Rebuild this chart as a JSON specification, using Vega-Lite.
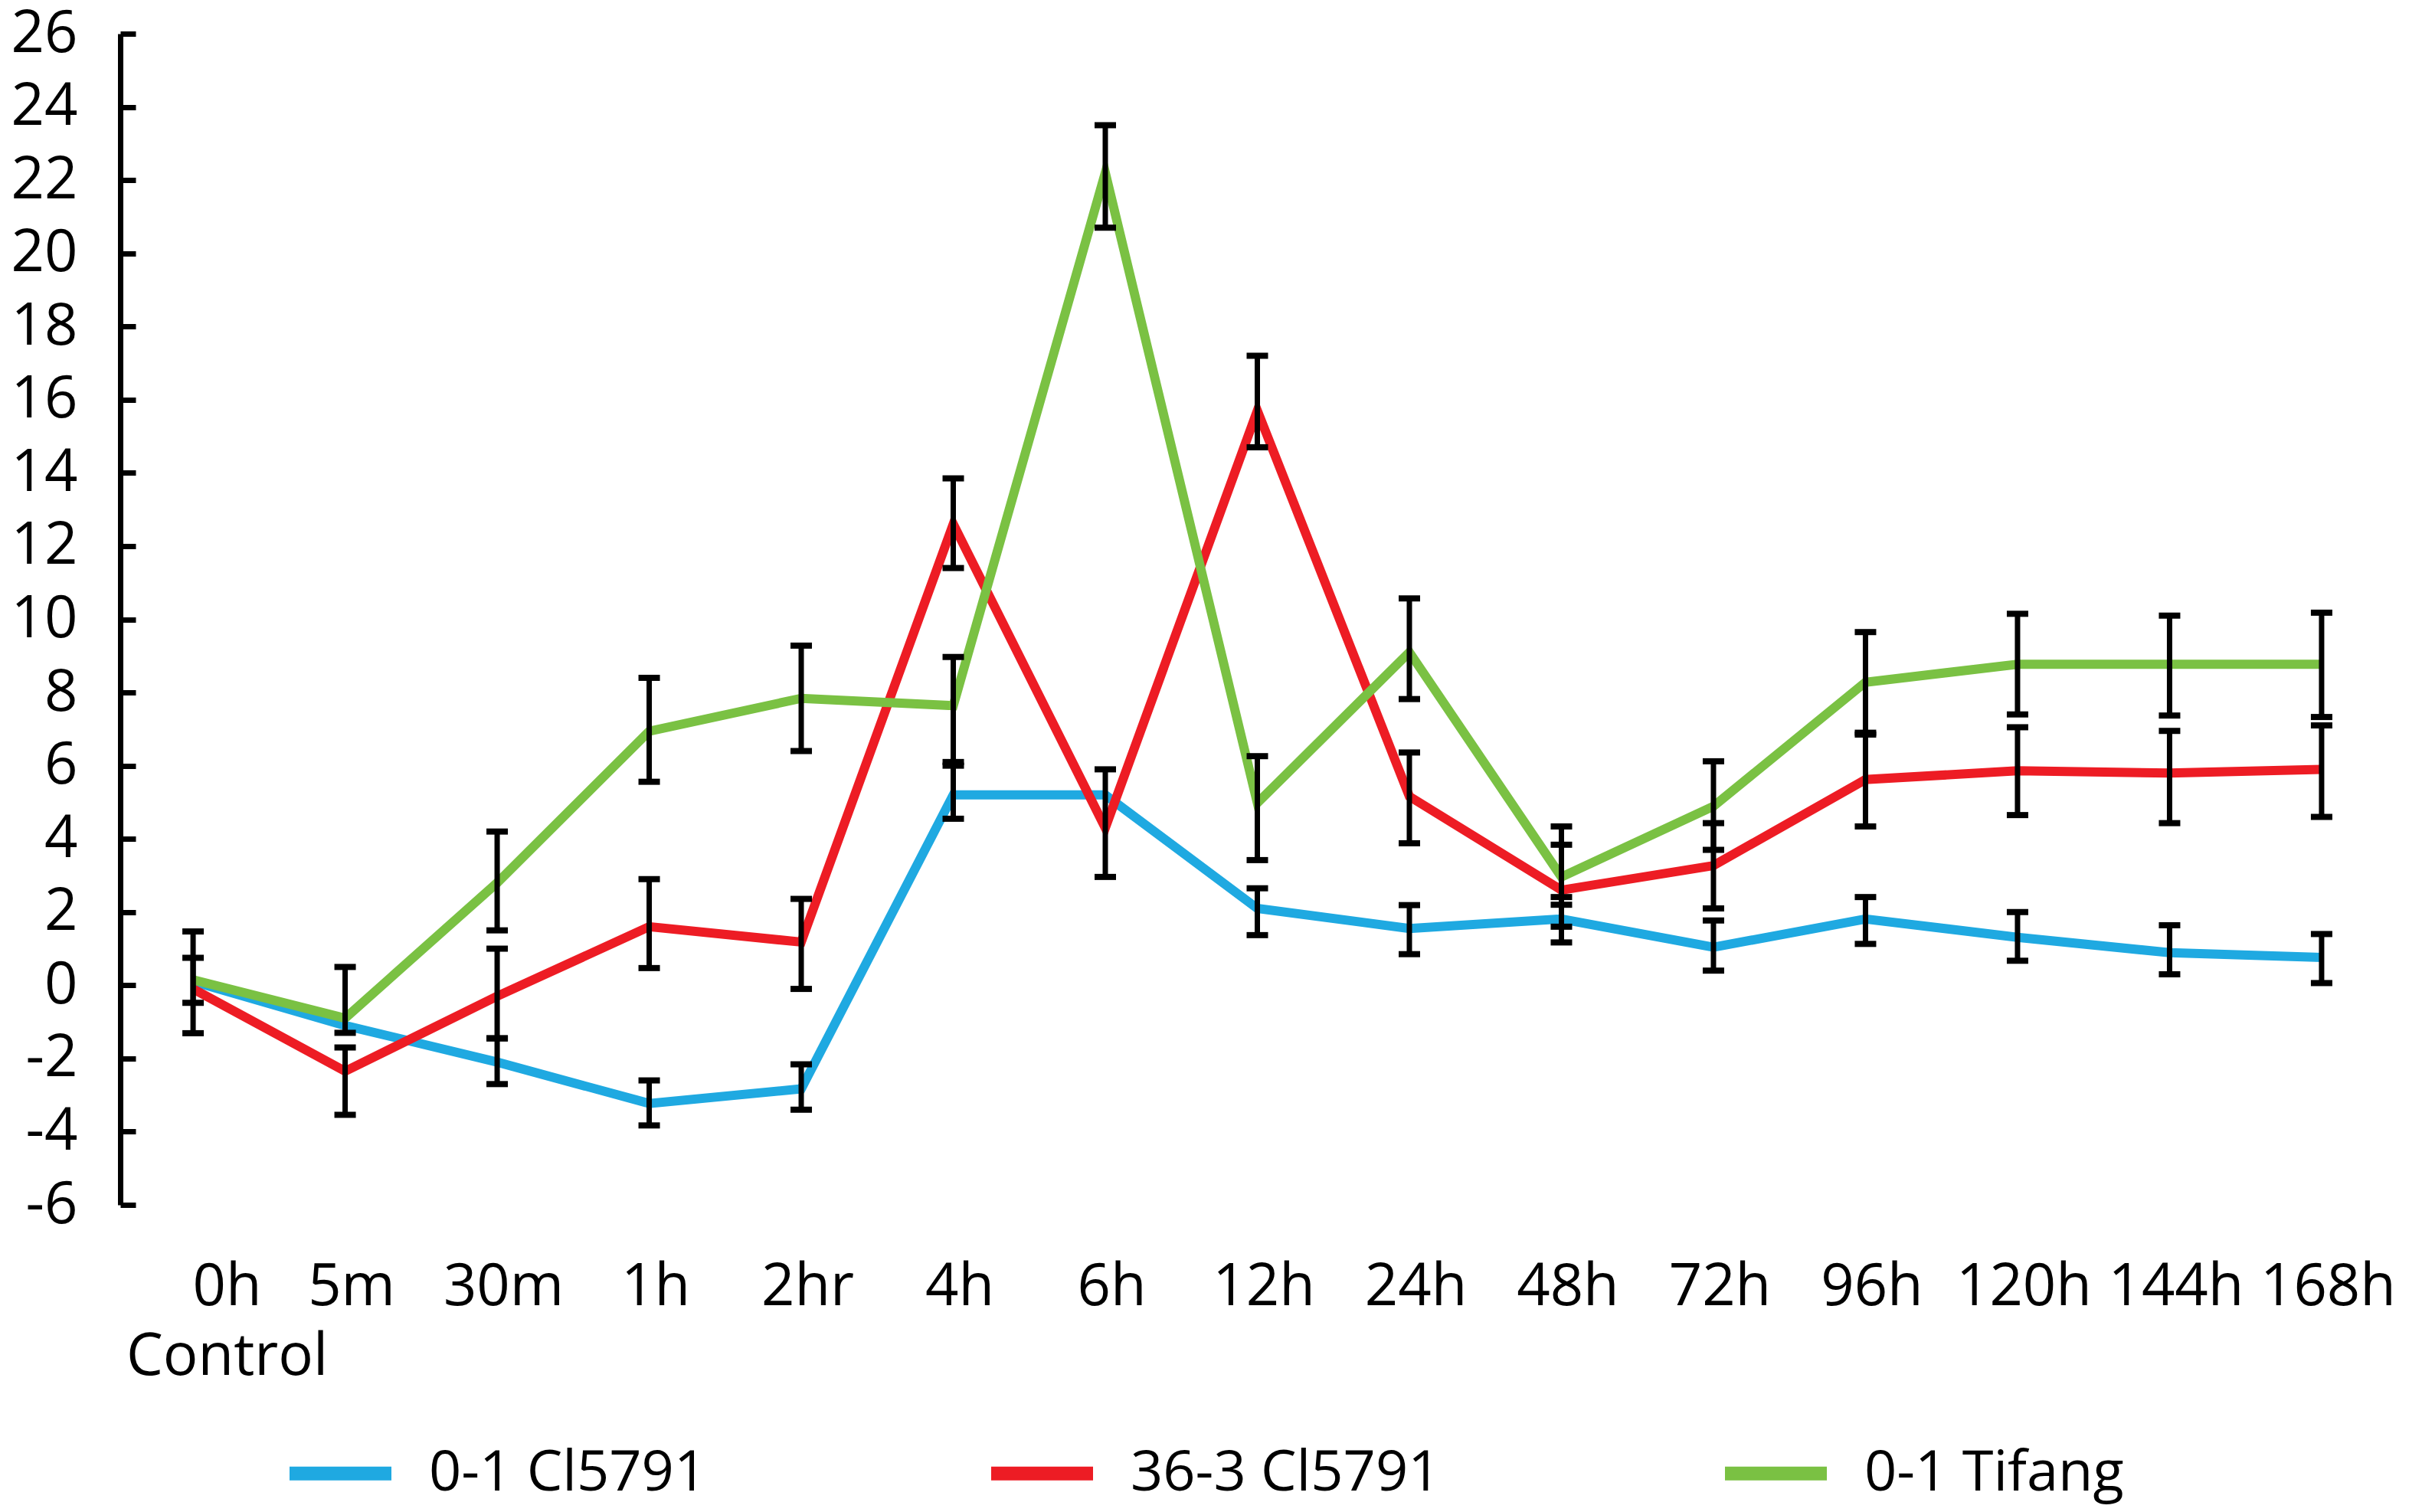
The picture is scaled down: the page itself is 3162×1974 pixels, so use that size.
{
  "$schema": "https://vega.github.io/schema/vega-lite/v6.json",
  "description": "Relative expression over time for three lines, with error bars",
  "width": 2969,
  "height": 1529,
  "autosize": {"type": "none"},
  "padding": {"left": 157, "top": 44, "right": 36, "bottom": 401},
  "background": "white",
  "config": {
    "view": {"stroke": null},
    "font": "Open Sans",
    "axis": {"labelColor": "black", "labelFont": "Open Sans", "labelFontSize": 76, "grid": false, "title": null}
  },
  "data": {
    "values": [
      {"time": "0h", "series": "0-1 Cl5791", "value": 0.1, "low": -0.48, "high": 0.75},
      {"time": "5m", "series": "0-1 Cl5791", "value": -1.1, "low": null, "high": null},
      {"time": "30m", "series": "0-1 Cl5791", "value": -2.1, "low": -2.7, "high": -1.45},
      {"time": "1h", "series": "0-1 Cl5791", "value": -3.23, "low": -3.83, "high": -2.6},
      {"time": "2hr", "series": "0-1 Cl5791", "value": -2.83, "low": -3.4, "high": -2.16},
      {"time": "4h", "series": "0-1 Cl5791", "value": 5.2, "low": 4.55, "high": 6.1},
      {"time": "6h", "series": "0-1 Cl5791", "value": 5.2, "low": null, "high": null},
      {"time": "12h", "series": "0-1 Cl5791", "value": 2.1, "low": 1.37, "high": 2.65},
      {"time": "24h", "series": "0-1 Cl5791", "value": 1.55, "low": 0.85, "high": 2.19},
      {"time": "48h", "series": "0-1 Cl5791", "value": 1.81, "low": 1.17, "high": 2.41},
      {"time": "72h", "series": "0-1 Cl5791", "value": 1.04, "low": 0.4, "high": 1.77},
      {"time": "96h", "series": "0-1 Cl5791", "value": 1.81, "low": 1.13, "high": 2.41},
      {"time": "120h", "series": "0-1 Cl5791", "value": 1.31, "low": 0.67, "high": 2.0},
      {"time": "144h", "series": "0-1 Cl5791", "value": 0.89, "low": 0.3, "high": 1.64},
      {"time": "168h", "series": "0-1 Cl5791", "value": 0.76, "low": 0.06, "high": 1.4},
      {"time": "0h", "series": "36-3 Cl5791", "value": -0.1, "low": null, "high": null},
      {"time": "5m", "series": "36-3 Cl5791", "value": -2.35, "low": -3.54, "high": -1.7},
      {"time": "30m", "series": "36-3 Cl5791", "value": -0.3, "low": -1.45, "high": 1.0},
      {"time": "1h", "series": "36-3 Cl5791", "value": 1.6, "low": 0.47, "high": 2.9},
      {"time": "2hr", "series": "36-3 Cl5791", "value": 1.18, "low": -0.1, "high": 2.36},
      {"time": "4h", "series": "36-3 Cl5791", "value": 12.6, "low": 11.4, "high": 13.85},
      {"time": "6h", "series": "36-3 Cl5791", "value": 4.3, "low": 2.96, "high": 5.9},
      {"time": "12h", "series": "36-3 Cl5791", "value": 15.7, "low": 14.7, "high": 17.2},
      {"time": "24h", "series": "36-3 Cl5791", "value": 5.16, "low": 3.88, "high": 6.36},
      {"time": "48h", "series": "36-3 Cl5791", "value": 2.6, "low": 1.6, "high": 3.84},
      {"time": "72h", "series": "36-3 Cl5791", "value": 3.27, "low": 2.1, "high": 4.43},
      {"time": "96h", "series": "36-3 Cl5791", "value": 5.62, "low": 4.34, "high": 6.9},
      {"time": "120h", "series": "36-3 Cl5791", "value": 5.86, "low": 4.65, "high": 7.05},
      {"time": "144h", "series": "36-3 Cl5791", "value": 5.8, "low": 4.43, "high": 6.95},
      {"time": "168h", "series": "36-3 Cl5791", "value": 5.9, "low": 4.6, "high": 7.1},
      {"time": "0h", "series": "0-1 Tifang", "value": 0.15, "low": -1.31, "high": 1.47},
      {"time": "5m", "series": "0-1 Tifang", "value": -0.9, "low": -1.3, "high": 0.5},
      {"time": "30m", "series": "0-1 Tifang", "value": 2.8, "low": 1.5, "high": 4.2},
      {"time": "1h", "series": "0-1 Tifang", "value": 6.94, "low": 5.56, "high": 8.4},
      {"time": "2hr", "series": "0-1 Tifang", "value": 7.84, "low": 6.4, "high": 9.28},
      {"time": "4h", "series": "0-1 Tifang", "value": 7.64, "low": 6.0, "high": 8.97},
      {"time": "6h", "series": "0-1 Tifang", "value": 22.2, "low": 20.7, "high": 23.5},
      {"time": "12h", "series": "0-1 Tifang", "value": 4.98, "low": 3.42, "high": 6.26},
      {"time": "24h", "series": "0-1 Tifang", "value": 9.1, "low": 7.82, "high": 10.57},
      {"time": "48h", "series": "0-1 Tifang", "value": 2.96, "low": 2.2, "high": 4.34},
      {"time": "72h", "series": "0-1 Tifang", "value": 4.89, "low": 3.7, "high": 6.12},
      {"time": "96h", "series": "0-1 Tifang", "value": 8.28, "low": 6.85, "high": 9.65},
      {"time": "120h", "series": "0-1 Tifang", "value": 8.77, "low": 7.4, "high": 10.15},
      {"time": "144h", "series": "0-1 Tifang", "value": 8.77, "low": 7.37, "high": 10.1},
      {"time": "168h", "series": "0-1 Tifang", "value": 8.77, "low": 7.33, "high": 10.18}
    ]
  },
  "encoding": {
    "x": {
      "field": "time",
      "type": "ordinal",
      "sort": ["0h", "5m", "30m", "1h", "2hr", "4h", "6h", "12h", "24h", "48h", "72h", "96h", "120h", "144h", "168h"],
      "scale": {"type": "point", "padding": 0.479},
      "axis": {
        "domain": false,
        "ticks": false,
        "labelAngle": 0,
        "labelPadding": 70,
        "labelLineHeight": 91,
        "labelLimit": 0,
        "labelExpr": "datum.value == '0h' ? ['0h', 'Control'] : datum.value",
        "labelOffset": {"condition": {"test": "datum.value == '0h'", "value": 44}, "value": 8}
      }
    }
  },
  "layer": [
    {
      "mark": {"type": "line", "strokeWidth": 12},
      "encoding": {
        "y": {
          "field": "value",
          "type": "quantitative",
          "scale": {"domain": [-6, 26], "nice": false, "zero": false},
          "axis": {
            "values": [-6, -4, -2, 0, 2, 4, 6, 8, 10, 12, 14, 16, 18, 20, 22, 24, 26],
            "labelExpr": "toString(datum.value)",
            "domainColor": "black",
            "domainWidth": 7,
            "tickColor": "black",
            "tickWidth": 7,
            "tickSize": -20,
            "labelPadding": 76
          }
        },
        "color": {
          "field": "series",
          "type": "nominal",
          "scale": {
            "domain": ["0-1 Cl5791", "36-3 Cl5791", "0-1 Tifang"],
            "range": ["#1fa9e1", "#ed1c24", "#7ac143"]
          },
          "legend": {
            "orient": "none",
            "legendX": 212,
            "legendY": 1804,
            "direction": "horizontal",
            "columns": 3,
            "title": null,
            "padding": 0,
            "symbolType": "stroke",
            "symbolSize": 17689,
            "symbolStrokeWidth": 18,
            "symbolOpacity": 1,
            "labelFontSize": 74,
            "labelColor": "black",
            "labelOffset": 40,
            "labelLimit": 0,
            "columnPadding": 335
          }
        }
      }
    },
    {
      "transform": [{"filter": "datum.low != null"}],
      "mark": {"type": "rule", "color": "black", "strokeWidth": 7},
      "encoding": {
        "y": {"field": "low", "type": "quantitative"},
        "y2": {"field": "high"}
      }
    },
    {
      "transform": [{"filter": "datum.low != null"}],
      "mark": {"type": "tick", "color": "black", "thickness": 8, "size": 28, "orient": "horizontal", "opacity": 1},
      "encoding": {
        "y": {"field": "low", "type": "quantitative"}
      }
    },
    {
      "transform": [{"filter": "datum.low != null"}],
      "mark": {"type": "tick", "color": "black", "thickness": 8, "size": 28, "orient": "horizontal", "opacity": 1},
      "encoding": {
        "y": {"field": "high", "type": "quantitative"}
      }
    }
  ]
}
